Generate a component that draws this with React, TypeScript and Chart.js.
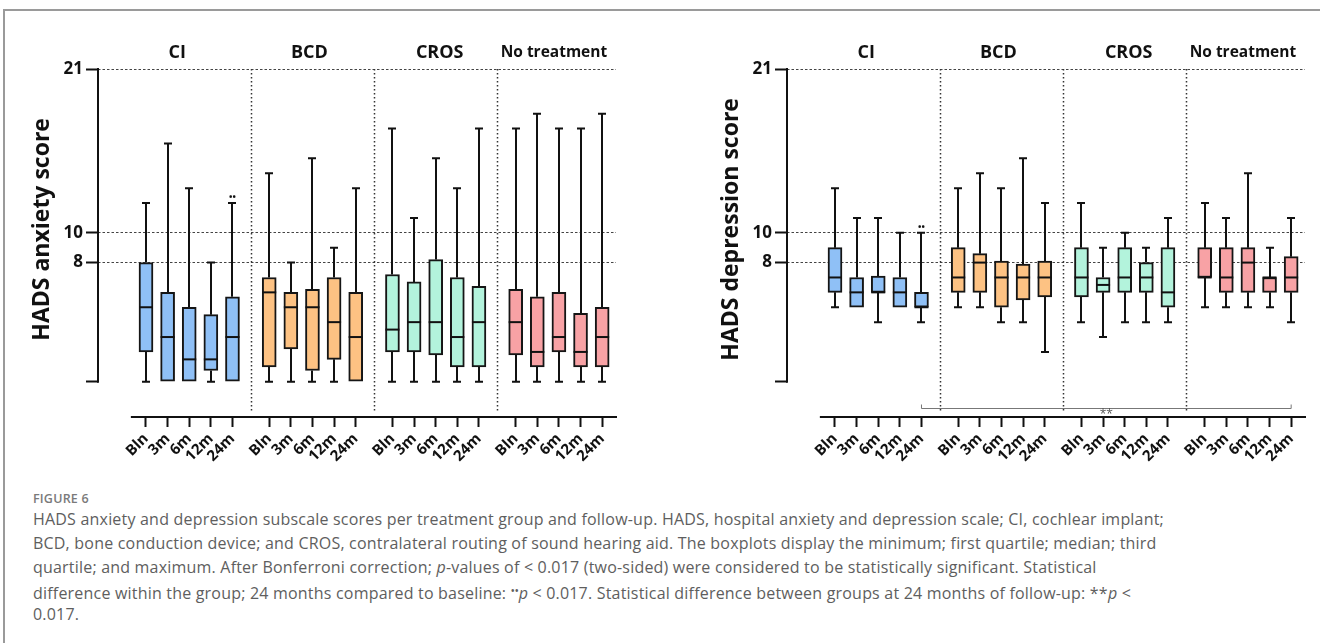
import React, { useEffect, useRef } from 'react';
import { Chart, registerables } from 'chart.js';

Chart.register(...registerables);

// ---------- data ----------
const groups = ['CI', 'BCD', 'CROS', 'No treatment'];
const timepoints = ['Bln', '3m', '6m', '12m', '24m'];
const yTickValues = [0, 8, 10, 21];

// anxiety (group-major: CI x5, BCD x5, CROS x5, No treatment x5)
const anxietyMin = [0, 0, 0, 0, 0, 0, 0, 0, 0, 0, 0, 0, 0, 0, 0, 0, 0, 0, 0, 0];
const anxietyQ1 = [2, 0, 0, 0.75, 0, 1, 2.2, 0.75, 1.5, 0, 2, 2, 1.8, 1, 1, 1.8, 1, 2, 1, 1];
const anxietyMedian = [5, 3, 1.5, 1.5, 3, 6, 5, 5, 4, 3, 3.5, 4, 4, 3, 4, 4, 2, 3, 2, 3];
const anxietyQ3 = [8, 6, 5, 4.5, 5.7, 7, 6, 6.2, 7, 6, 7.2, 6.7, 8.2, 7, 6.4, 6.2, 5.7, 6, 4.6, 5];
const anxietyMax = [12, 16, 13, 8, 12, 14, 8, 15, 9, 13, 17, 11, 15, 13, 17, 17, 18, 17, 17, 18];

// depression
const depressionMin = [5, 5, 4, 5, 4, 5, 5, 4, 4, 2, 4, 3, 4, 4, 4, 5, 5, 5, 5, 4];
const depressionQ1 = [6, 5, 6, 5, 5, 6, 6, 5, 5.5, 5.7, 5.7, 6, 6, 6, 5, 7, 6, 6, 6, 6];
const depressionMedian = [7, 6, 6, 6, 5, 7, 8, 7, 7, 7, 7, 6.5, 7, 7, 6, 7, 7, 8, 7, 7];
const depressionQ3 = [9, 7, 7.1, 7, 6, 9, 8.6, 8.1, 7.9, 8.1, 9, 7, 9, 8, 9, 9, 9, 9, 7, 8.4];
const depressionMax = [13, 11, 11, 10, 10, 13, 14, 13, 15, 12, 12, 9, 10, 9, 11, 12, 11, 14, 9, 11];

const withinGroupSig = [4]; // CI 24m vs baseline (••)
const betweenGroupSig = [4, 19]; // bracket CI 24m .. No treatment 24m (**)

// ---------- style ----------
const groupColors = ['#8fc0f6', '#fdc283', '#b3f3dc', '#f8a2a5'];
const FONT = '"Open Sans", "DejaVu Sans", sans-serif';
const GROUP_STRIDE = 5.7;
const titleOffsets = [-12, -3, 4, -5];
const titleSizes = [18, 18, 18, 15.5];

const positions = groups.flatMap((_, g) => timepoints.map((__, i) => g * GROUP_STRIDE + i));

type Stats = { min: number[]; q1: number[]; med: number[]; q3: number[]; max: number[] };

function makePlugin(stats: Stats, axisTitle: string, showBracket: boolean) {
  return {
    id: 'boxplotExtras',
    beforeDatasetsDraw(chart: any) {
      const { ctx, chartArea, scales } = chart;
      const x = scales.x;
      const y = scales.y;
      ctx.save();
      // group separators
      ctx.strokeStyle = '#333';
      ctx.lineWidth = 1.5;
      ctx.setLineDash([1.5, 2.5]);
      for (let g = 0; g < groups.length - 1; g++) {
        const mid = g * GROUP_STRIDE + 4 + (GROUP_STRIDE - 4) / 2;
        const px = Math.round(x.getPixelForValue(mid)) + 0.5;
        ctx.beginPath();
        ctx.moveTo(px, chartArea.top);
        ctx.lineTo(px, chartArea.bottom - 4);
        ctx.stroke();
      }
      ctx.setLineDash([]);
      // axis lines
      ctx.strokeStyle = '#111';
      ctx.lineWidth = 2;
      ctx.beginPath();
      ctx.moveTo(chartArea.left, y.getPixelForValue(0) + 1);
      ctx.lineTo(chartArea.left, y.getPixelForValue(21) - 1);
      ctx.stroke();
      ctx.beginPath();
      ctx.moveTo(x.getPixelForValue(-0.7), chartArea.bottom);
      ctx.lineTo(chartArea.right + 1, chartArea.bottom);
      ctx.stroke();
      // whiskers
      const cap = 4;
      ctx.lineWidth = 2;
      positions.forEach((p, k) => {
        const cx = Math.round(x.getPixelForValue(p));
        const yMax = y.getPixelForValue(stats.max[k]);
        const yQ3 = y.getPixelForValue(stats.q3[k]);
        const yQ1 = y.getPixelForValue(stats.q1[k]);
        const yMin = y.getPixelForValue(stats.min[k]);
        if (stats.max[k] > stats.q3[k]) {
          ctx.beginPath();
          ctx.moveTo(cx, yQ3);
          ctx.lineTo(cx, yMax);
          ctx.moveTo(cx - cap, yMax);
          ctx.lineTo(cx + cap, yMax);
          ctx.stroke();
        }
        if (stats.min[k] < stats.q1[k]) {
          ctx.beginPath();
          ctx.moveTo(cx, yQ1);
          ctx.lineTo(cx, yMin);
          ctx.moveTo(cx - cap, yMin);
          ctx.lineTo(cx + cap, yMin);
          ctx.stroke();
        }
      });
      ctx.restore();
    },
    afterDatasetsDraw(chart: any) {
      const { ctx, chartArea, scales } = chart;
      const x = scales.x;
      const y = scales.y;
      const meta = chart.getDatasetMeta(0);
      ctx.save();
      // medians
      ctx.strokeStyle = '#111';
      ctx.lineWidth = 2;
      positions.forEach((p, k) => {
        const bar = meta.data[k];
        const half = bar.width / 2;
        const cx = x.getPixelForValue(p);
        const ym = y.getPixelForValue(stats.med[k]);
        ctx.beginPath();
        ctx.moveTo(cx - half, ym);
        ctx.lineTo(cx + half, ym);
        ctx.stroke();
      });
      // within-group significance
      ctx.fillStyle = '#111';
      ctx.font = `bold 9px ${FONT}`;
      ctx.textAlign = 'center';
      ctx.textBaseline = 'bottom';
      withinGroupSig.forEach((k) => {
        ctx.fillText('••', x.getPixelForValue(positions[k]), y.getPixelForValue(stats.max[k]) - 1);
      });
      // group titles
      ctx.textBaseline = 'middle';
      groups.forEach((g, i) => {
        const center = (x.getPixelForValue(positions[i * 5]) + x.getPixelForValue(positions[i * 5 + 4])) / 2;
        ctx.font = `bold ${titleSizes[i]}px ${FONT}`;
        ctx.fillText(g, center + titleOffsets[i], chartArea.top - 16);
      });
      // axis title
      ctx.save();
      ctx.translate(42, (y.getPixelForValue(0) + y.getPixelForValue(21)) / 2 + 4);
      ctx.rotate(-Math.PI / 2);
      ctx.font = `bold 23px ${FONT}`;
      ctx.fillText(axisTitle, 0, 0);
      ctx.restore();
      // between-group bracket
      if (showBracket) {
        const x1 = x.getPixelForValue(positions[betweenGroupSig[0]]);
        const x2 = x.getPixelForValue(positions[betweenGroupSig[1]]);
        const yb = Math.round(chartArea.bottom - 9) + 0.5;
        ctx.strokeStyle = '#777';
        ctx.lineWidth = 1;
        ctx.beginPath();
        ctx.moveTo(x1, yb - 4);
        ctx.lineTo(x1, yb);
        ctx.lineTo(x2, yb);
        ctx.lineTo(x2, yb - 4);
        ctx.stroke();
        ctx.fillStyle = '#555';
        ctx.font = `12px ${FONT}`;
        ctx.textBaseline = 'top';
        ctx.fillText('**', (x1 + x2) / 2, yb);
      }
      ctx.restore();
    },
  };
}

function Panel({ left, stats, axisTitle, showBracket }: { left: number; stats: Stats; axisTitle: string; showBracket: boolean }) {
  const ref = useRef<HTMLCanvasElement>(null);
  useEffect(() => {
    const canvas = ref.current!;
    const chart = new Chart(canvas, {
      type: 'bar',
      data: {
        datasets: [
          {
            data: positions.map((p, k) => ({ x: p, y: [stats.q1[k], stats.q3[k]] })) as any,
            backgroundColor: positions.map((_, k) => groupColors[Math.floor(k / 5)]),
            borderColor: '#151515',
            borderWidth: 2,
            borderSkipped: false,
            barThickness: 14,
          },
        ],
      },
      options: {
        animation: false,
        responsive: false,
        devicePixelRatio: 1,
        layout: { padding: { top: 69, right: 14, left: 0, bottom: 0 } },
        plugins: { legend: { display: false }, tooltip: { enabled: false } },
        scales: {
          x: {
            type: 'linear',
            offset: false,
            min: -2.22,
            max: 21.74,
            afterBuildTicks: (s: any) => {
              s.ticks = positions.map((v) => ({ value: v }));
            },
            afterFit: (s: any) => {
              s.height = 53;
            },
            ticks: {
              autoSkip: false,
              minRotation: 45,
              maxRotation: 45,
              padding: 3,
              color: '#111',
              font: { family: FONT, weight: 'bold', size: 15 },
              callback: (_v: any, i: number) => timepoints[i % 5],
            },
            grid: { offset: false, drawOnChartArea: false, tickLength: 10, tickColor: '#111', tickWidth: 2 },
            border: { display: false },
          },
          y: {
            type: 'linear',
            min: -2.37,
            max: 21,
            afterBuildTicks: (s: any) => {
              s.ticks = yTickValues.map((v) => ({ value: v }));
            },
            afterFit: (s: any) => {
              s.width = 98;
            },
            ticks: {
              padding: 3,
              color: '#111',
              font: { family: FONT, weight: 'bold', size: 17 },
              callback: (v: any) => (v === 0 ? '' : String(v)),
            },
            grid: {
              color: (c: any) => (c.tick && c.tick.value === 0 ? 'rgba(0,0,0,0)' : '#444'),
              lineWidth: 1,
              tickLength: 12,
              tickColor: '#111',
              tickWidth: 2,
            },
            border: { display: false, dash: [2.5, 2] },
          },
        },
      },
      plugins: [makePlugin(stats, axisTitle, showBracket)],
    } as any);
    return () => chart.destroy();
  }, []);
  return (
    <canvas
      ref={ref}
      width={630}
      height={470}
      style={{ position: 'absolute', left, top: 0, width: 630, height: 470 }}
    />
  );
}

const captionLine: React.CSSProperties = { whiteSpace: 'nowrap', height: 23.8, lineHeight: '23.8px' };

export default function App() {
  useEffect(() => {
    document.body.style.margin = '0';
  }, []);
  const anxiety: Stats = { min: anxietyMin, q1: anxietyQ1, med: anxietyMedian, q3: anxietyQ3, max: anxietyMax };
  const depression: Stats = {
    min: depressionMin,
    q1: depressionQ1,
    med: depressionMedian,
    q3: depressionQ3,
    max: depressionMax,
  };
  const sup: React.CSSProperties = { fontSize: '0.75em', verticalAlign: '0.35em', letterSpacing: -0.5 };
  return (
    <div style={{ position: 'relative', width: 1320, height: 643, overflow: 'hidden', background: '#fff' }}>
      <div style={{ position: 'absolute', left: 3, top: 9, width: 1317, height: 2, background: '#9a9a9a' }} />
      <div style={{ position: 'absolute', left: 3, top: 9, width: 2, height: 634, background: '#9a9a9a' }} />
      <Panel left={0} stats={anxiety} axisTitle="HADS anxiety score" showBracket={false} />
      <Panel left={689} stats={depression} axisTitle="HADS depression score" showBracket={true} />
      <div
        style={{
          position: 'absolute',
          left: 33,
          top: 490,
          fontFamily: FONT,
          fontSize: 12.5,
          fontWeight: 600,
          color: '#7a7a7a',
          letterSpacing: 0.2,
        }}
      >
        FIGURE 6
      </div>
      <div
        style={{
          position: 'absolute',
          left: 33,
          top: 508,
          fontFamily: FONT,
          fontSize: 16,
          letterSpacing: 0.2,
          color: '#5e5e5e',
        }}
      >
        <div style={captionLine}>
          HADS anxiety and depression subscale scores per treatment group and follow-up. HADS, hospital anxiety and
          depression scale; CI, cochlear implant;
        </div>
        <div style={captionLine}>
          BCD, bone conduction device; and CROS, contralateral routing of sound hearing aid. The boxplots display the
          minimum; first quartile; median; third
        </div>
        <div style={captionLine}>
          quartile; and maximum. After Bonferroni correction; <i>p</i>-values of &lt; 0.017 (two-sided) were considered
          to be statistically significant. Statistical
        </div>
        <div style={captionLine}>
          difference within the group; 24 months compared to baseline: <span style={sup}>••</span>
          <i>p</i> &lt; 0.017. Statistical difference between groups at 24 months of follow-up: **<i>p</i> &lt;
        </div>
        <div style={captionLine}>0.017.</div>
      </div>
    </div>
  );
}
